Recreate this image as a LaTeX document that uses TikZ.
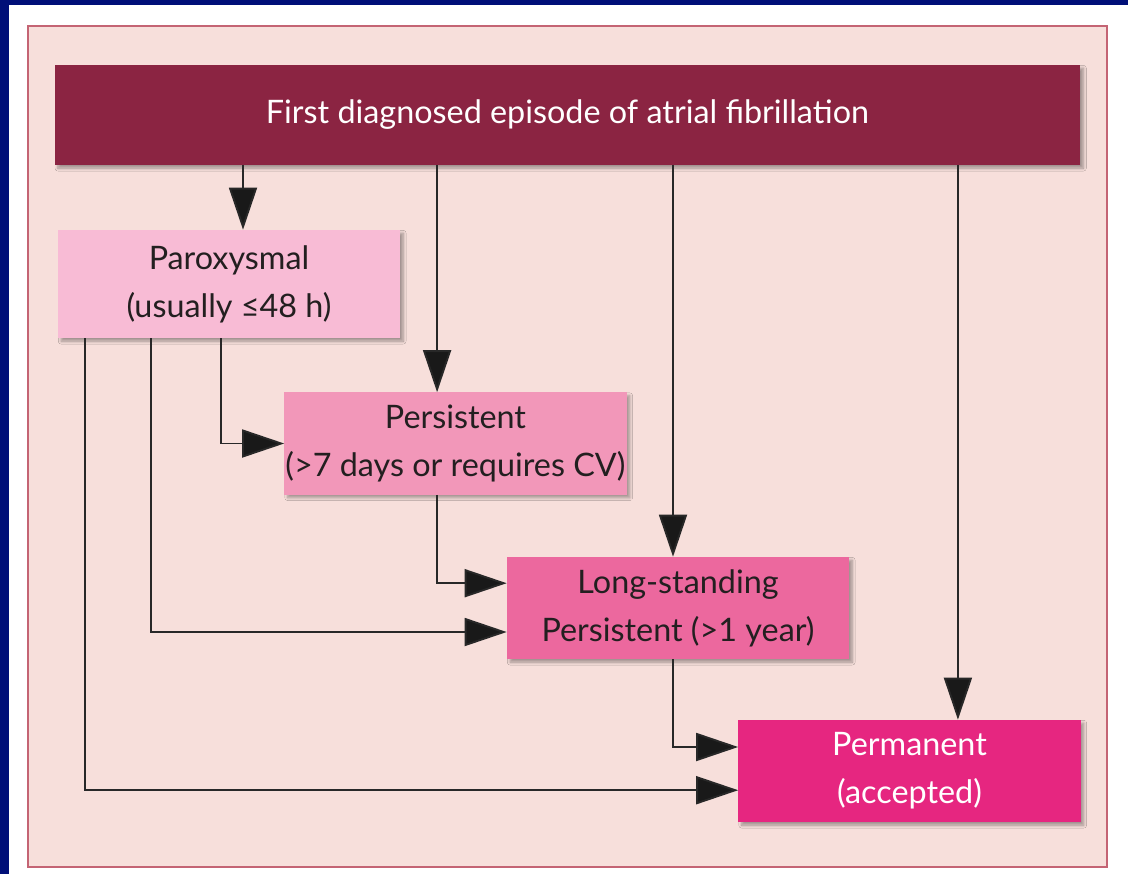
\documentclass[tikz,border=0pt]{standalone}
\usepackage{fontspec}
\setmainfont{Lato}
\usepackage{tikz}
\usetikzlibrary{arrows.meta, positioning, calc, shadows.blur}
\definecolor{navyframe}{RGB}{0, 15, 120}
\definecolor{panelfill}{RGB}{247, 223, 219}
\definecolor{paneldraw}{RGB}{196, 100, 116}
\definecolor{titlered}{RGB}{139, 36, 66}
\definecolor{paroxpink}{RGB}{248, 187, 213}
\definecolor{persistpink}{RGB}{242, 151, 185}
\definecolor{longpink}{RGB}{236, 104, 158}
\definecolor{permpink}{RGB}{230, 38, 128}
\definecolor{inkdark}{RGB}{35, 31, 32}
\definecolor{linegray}{RGB}{40, 40, 40}

\begin{document}
\begin{tikzpicture}[
    x=0.025cm, y=-0.025cm, % one unit = one pixel of the slide
    box/.style={rectangle, inner sep=0pt, minimum width=8.55cm, minimum height=2.55cm, align=center, text=inkdark, font=\fontsize{23}{34}\selectfont, blur shadow={shadow xshift=0.08cm, shadow yshift=-0.08cm, shadow blur steps=6, shadow opacity=35}},
    arrow/.style={-{Triangle[length=1.05cm, width=0.7cm, fill=black!90]}, line width=1.3pt, draw=linegray},
]

% Frame and panel
\fill[navyframe] (0,0) rectangle (1128,874);
\fill[white] (9,5) rectangle (1128,874);
\draw[paneldraw, fill=panelfill, line width=1.6pt] (28,26) rectangle (1107,867);

% Boxes
\node[box, fill=titlered, text=white, minimum width=25.63cm, minimum height=2.5cm, font=\fontsize{23}{30}\selectfont] (title) at (567.5,115) {First diagnosed episode of atrial fibrillation};
\node[box, fill=paroxpink, minimum height=2.7cm] (parox) at (229,284) {Paroxysmal\\(usually ≤48 h)};
\node[box, fill=persistpink] (persist) at (455.5,443.5) {Persistent\\(>7 days or requires CV)};
\node[box, fill=longpink] (longst) at (678,608) {Long-standing\\Persistent (>1 year)};
\node[box, fill=permpink, text=white] (perm) at (909.5,771) {Permanent\\(accepted)};

% From the first episode
\draw[arrow] ([xshift=0.35cm]parox.north |- title.south) -- ([xshift=0.35cm]parox.north);
\draw[arrow] ([xshift=-0.46cm]persist.north |- title.south) -- ([xshift=-0.46cm]persist.north);
\draw[arrow] ([xshift=-0.125cm]longst.north |- title.south) -- ([xshift=-0.125cm]longst.north);
\draw[arrow] ([xshift=1.21cm]perm.north |- title.south) -- ([xshift=1.21cm]perm.north);

% From paroxysmal
\draw[arrow] ([xshift=-0.2cm]parox.south) |- (persist.west);
\draw[arrow] ([xshift=-1.95cm]parox.south) |- ([yshift=-0.6cm]longst.west);
\draw[arrow] ([xshift=-3.6cm]parox.south) |- ([yshift=-0.48cm]perm.west);

% Progression
\draw[arrow] ([xshift=-0.46cm]persist.south) |- ([yshift=0.62cm]longst.west);
\draw[arrow] ([xshift=-0.125cm]longst.south) |- ([yshift=0.6cm]perm.west);

\end{tikzpicture}
\end{document}
